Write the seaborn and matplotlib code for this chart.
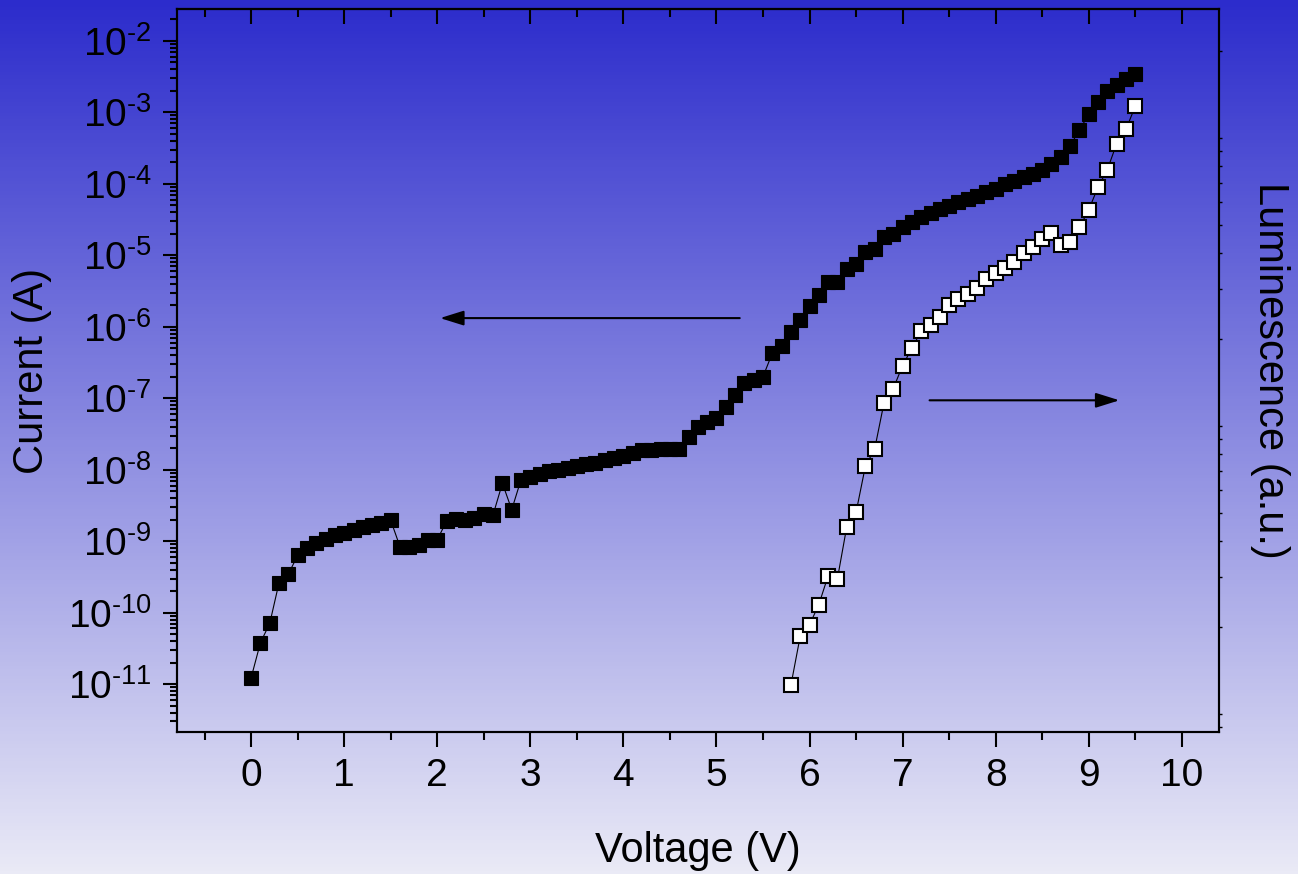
import numpy as np
import pandas as pd
import matplotlib
matplotlib.use('Agg')
import matplotlib.pyplot as plt
import seaborn as sns
from matplotlib.ticker import (LogLocator, MultipleLocator, NullFormatter,
                               FuncFormatter)

# Voltage sweep (V) for the current trace, 0.0 .. 9.5
voltage = [
    0.0, 0.1, 0.2, 0.3, 0.4, 0.5, 0.6, 0.7, 0.8, 0.9,
    1.0, 1.1, 1.2, 1.3, 1.4, 1.5, 1.6, 1.7, 1.8, 1.9,
    2.0, 2.1, 2.2, 2.3, 2.4, 2.5, 2.6, 2.7, 2.8, 2.9,
    3.0, 3.1, 3.2, 3.3, 3.4, 3.5, 3.6, 3.7, 3.8, 3.9,
    4.0, 4.1, 4.2, 4.3, 4.4, 4.5, 4.6, 4.7, 4.8, 4.9,
    5.0, 5.1, 5.2, 5.3, 5.4, 5.5, 5.6, 5.7, 5.8, 5.9,
    6.0, 6.1, 6.2, 6.3, 6.4, 6.5, 6.6, 6.7, 6.8, 6.9,
    7.0, 7.1, 7.2, 7.3, 7.4, 7.5, 7.6, 7.7, 7.8, 7.9,
    8.0, 8.1, 8.2, 8.3, 8.4, 8.5, 8.6, 8.7, 8.8, 8.9,
    9.0, 9.1, 9.2, 9.3, 9.4, 9.5,
]

# log10 of current (A)
current_log10 = [
    -10.91, -10.42, -10.15, -9.58, -9.46, -9.20, -9.10, -9.03, -8.97, -8.92,
    -8.88, -8.84, -8.80, -8.77, -8.74, -8.71, -9.08, -9.08, -9.05, -8.99,
    -8.98, -8.72, -8.69, -8.71, -8.68, -8.62, -8.63, -8.19, -8.56, -8.14,
    -8.10, -8.06, -8.02, -8.00, -7.97, -7.95, -7.92, -7.90, -7.87, -7.84,
    -7.81, -7.77, -7.73, -7.72, -7.71, -7.71, -7.71, -7.54, -7.41, -7.34,
    -7.28, -7.12, -6.95, -6.79, -6.75, -6.70, -6.37, -6.27, -6.08, -5.90,
    -5.71, -5.55, -5.38, -5.38, -5.20, -5.13, -4.96, -4.92, -4.75, -4.71,
    -4.61, -4.54, -4.47, -4.41, -4.36, -4.31, -4.26, -4.22, -4.17, -4.12,
    -4.07, -4.01, -3.96, -3.91, -3.86, -3.81, -3.72, -3.62, -3.47, -3.25,
    -3.03, -2.85, -2.70, -2.62, -2.54, -2.46,
]

# Luminescence starts at 5.8 V
voltage_lum = [
    5.8, 5.9, 6.0, 6.1, 6.2, 6.3, 6.4, 6.5, 6.6, 6.7,
    6.8, 6.9, 7.0, 7.1, 7.2, 7.3, 7.4, 7.5, 7.6, 7.7,
    7.8, 7.9, 8.0, 8.1, 8.2, 8.3, 8.4, 8.5, 8.6, 8.7,
    8.8, 8.9, 9.0, 9.1, 9.2, 9.3, 9.4, 9.5,
]

# log10 of luminescence (a.u.)
lum_log10 = [
    0.10, 0.27, 0.31, 0.38, 0.48, 0.47, 0.65, 0.70, 0.86, 0.92,
    1.08, 1.13, 1.21, 1.27, 1.33, 1.35, 1.38, 1.42, 1.44, 1.46,
    1.48, 1.51, 1.53, 1.55, 1.57, 1.60, 1.62, 1.65, 1.67, 1.63,
    1.64, 1.69, 1.75, 1.83, 1.89, 1.98, 2.03, 2.11,
]

W, H = 1298, 874
TOP_RGB = np.array([44, 44, 204]) / 255
BOT_RGB = np.array([234, 234, 246]) / 255

sns.set_theme(style='ticks')
plt.rcParams['font.family'] = ['Liberation Sans', 'DejaVu Sans']
plt.rcParams['mathtext.fontset'] = 'custom'
plt.rcParams['mathtext.rm'] = 'Liberation Sans'
plt.rcParams['mathtext.it'] = 'Liberation Sans:italic'
plt.rcParams['mathtext.bf'] = 'Liberation Sans:bold'
plt.rcParams['axes.unicode_minus'] = False

df_cur = pd.DataFrame({'Voltage': voltage,
                       'Current': 10 ** np.array(current_log10)})
df_lum = pd.DataFrame({'Voltage': voltage_lum,
                       'Luminescence': 10 ** np.array(lum_log10)})


def pow10_label(val, pos):
    # Origin-style "10^-n" with a short hyphen in the exponent
    n = int(round(np.log10(val)))
    sign = '\\text{-}' if n < 0 else ''
    return f'$\\mathdefault{{10^{{{sign}{abs(n)}}}}}$'


fig = plt.figure(figsize=(W / 100, H / 100), dpi=100)

# vertical gradient background
bg = fig.add_axes([0, 0, 1, 1], zorder=-10)
t = np.linspace(0, 1, 256)[:, None, None]
grad = TOP_RGB * (1 - t) + BOT_RGB * t
bg.imshow(grad, aspect='auto', extent=[0, 1, 0, 1])
bg.axis('off')

left, right, top, bottom = 176.7, 1219, 9, 732
ax = fig.add_axes([left / W, 1 - bottom / H, (right - left) / W,
                   (bottom - top) / H])
ax.patch.set_facecolor('none')
ax.set_yscale('log')

sns.lineplot(data=df_cur, x='Voltage', y='Current', ax=ax, color='black',
             linewidth=0.8, marker='s', markersize=10,
             markerfacecolor='black', markeredgecolor='black',
             markeredgewidth=0.8)

ax.set_xlim(-0.8, 10.4)
ax.set_ylim(10 ** -11.67, 10 ** -1.556)
ax.xaxis.set_major_locator(MultipleLocator(1))
ax.xaxis.set_minor_locator(MultipleLocator(0.5))
ax.yaxis.set_major_locator(LogLocator(base=10, numticks=30))
ax.yaxis.set_major_formatter(FuncFormatter(pow10_label))
ax.yaxis.set_minor_locator(LogLocator(base=10, subs=np.arange(2, 10),
                                      numticks=200))
ax.yaxis.set_minor_formatter(NullFormatter())
ax.tick_params(which='both', direction='out', width=1.5, color='black',
               labelsize=28, labelcolor='black', top=False, right=False)
ax.tick_params(axis='x', which='major', length=11, pad=8)
ax.tick_params(axis='x', which='minor', length=6)
ax.tick_params(axis='y', which='major', length=10, pad=8)
ax.tick_params(axis='y', which='minor', length=5)
for sp in ax.spines.values():
    sp.set_visible(True)
    sp.set_color('black')
    sp.set_linewidth(1.5)

# top axis: inward ticks, no labels
sec = ax.secondary_xaxis('top')
sec.xaxis.set_major_locator(MultipleLocator(1))
sec.xaxis.set_minor_locator(MultipleLocator(0.5))
sec.xaxis.set_major_formatter(NullFormatter())
sec.tick_params(which='both', direction='in', width=1.5, color='black')
sec.tick_params(which='major', length=11)
sec.tick_params(which='minor', length=6)
sec.spines['top'].set_linewidth(1.5)
sec.spines['top'].set_color('black')

ax.set_xlabel('Voltage (V)', fontsize=30, color='black')
ax.set_ylabel('Current (A)', fontsize=30, color='black')
ax.xaxis.set_label_coords(0.5, -0.137)
ax.yaxis.set_label_coords(-0.12, 0.5)

# luminescence on its own log axis
ax2 = ax.twinx()
ax2.set_yscale('log')
sns.lineplot(data=df_lum, x='Voltage', y='Luminescence', ax=ax2,
             color='black', linewidth=0.8, marker='s', markersize=10,
             markerfacecolor='white', markeredgecolor='black',
             markeredgewidth=1.5)
ax2.set_ylim(10 ** -0.0625, 10 ** 2.448)
ax2.yaxis.set_minor_locator(LogLocator(base=10, subs=np.arange(2, 10),
                                       numticks=100))
ax2.yaxis.set_major_formatter(NullFormatter())
ax2.yaxis.set_minor_formatter(NullFormatter())
ax2.tick_params(axis='y', which='both', direction='out', length=2,
                width=1, color='black')
for sp in ax2.spines.values():
    sp.set_color('black')
    sp.set_linewidth(1.5)
ax2.set_xlabel('')
ax2.set_ylabel('Luminescence (a.u.)', fontsize=30, color='black',
               rotation=270, va='bottom')
ax2.yaxis.set_label_coords(1.03, 0.5)

# direction arrows
arrow = dict(arrowstyle='-|>,head_length=0.8,head_width=0.25',
             color='black', lw=1.5, mutation_scale=18, shrinkA=0, shrinkB=0)
ax.annotate('', xy=(2.03, 10 ** -5.88), xytext=(5.25, 10 ** -5.88),
            arrowprops=arrow)
ax.annotate('', xy=(9.33, 10 ** -7.03), xytext=(7.29, 10 ** -7.03),
            arrowprops=arrow)

fig.savefig('out.png', dpi=100)
plt.close(fig)
